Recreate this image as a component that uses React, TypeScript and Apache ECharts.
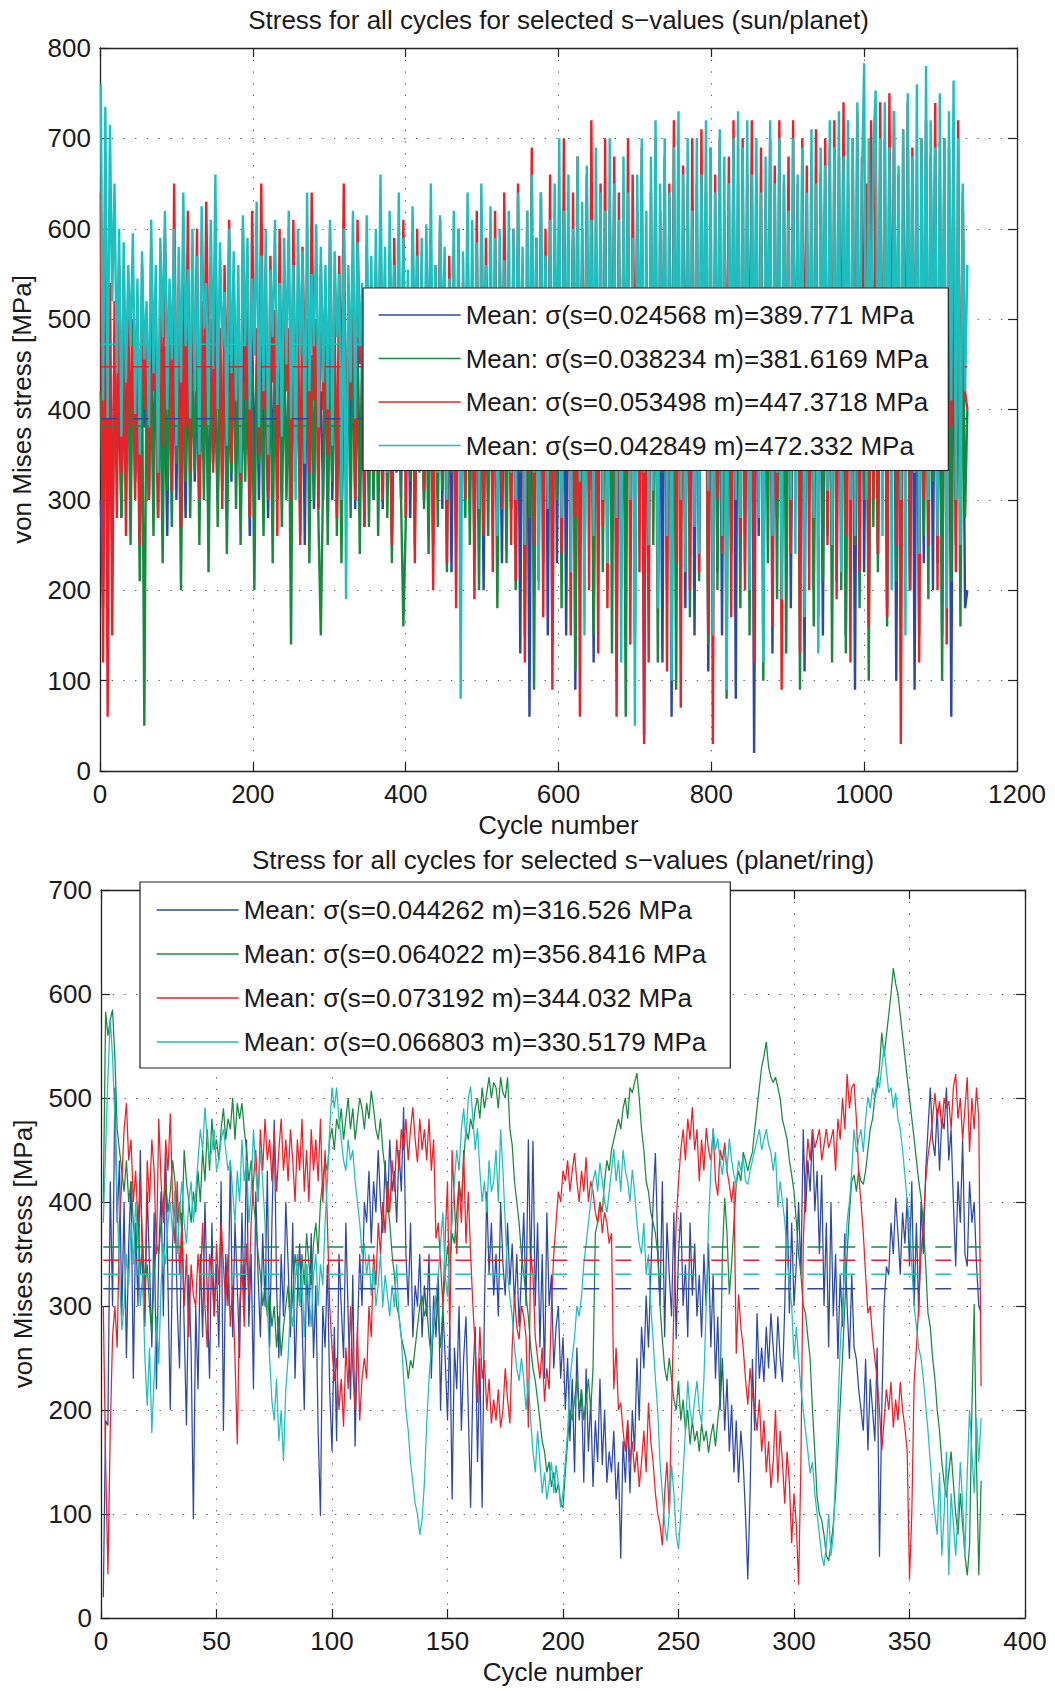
import React, { useEffect, useRef } from 'react';
import * as echarts from 'echarts';

const FONT = '"Liberation Sans", Arial, Helvetica, sans-serif';
const TEXT = '#1a1a1a';
const AXIS = '#222222';
const COLORS = ['#2b48a6', '#168a3f', '#ee1f26', '#1fbfbf'];

const topTitle = 'Stress for all cycles for selected s\u2212values (sun/planet)';
const bottomTitle = 'Stress for all cycles for selected s\u2212values (planet/ring)';
const xName = 'Cycle number';
const yName = 'von Mises stress [MPa]';

const topS = ['0.024568', '0.038234', '0.053498', '0.042849'];
const topMeans = [389.771, 381.6169, 447.3718, 472.332];
const bottomS = ['0.044262', '0.064022', '0.073192', '0.066803'];
const bottomMeans = [316.526, 356.8416, 344.032, 330.5179];

// axis ranges
const topXMax = 1200, topXInterval = 200, topYMax = 800, topYInterval = 100;
const botXMax = 400, botXInterval = 50, botYMax = 700, botYInterval = 100;

// top chart: one value every 3rd cycle (cycle 1, 4, 7, ... 1135)
const topFirstCycle = 1;
const topCycleStep = 3;
const topLastCycle = 1135;

const topBlue = [
  300,180,450,300,420,250,480,340,410,280,470,350,440,300,500,320,430,270,460,380,
  420,300,480,350,440,280,500,330,410,260,470,360,450,300,490,340,420,280,460,350,
  480,320,440,290,500,360,430,270,470,340,410,300,490,350,440,280,460,320,500,340,
  430,290,470,350,420,260,490,330,450,300,480,360,420,280,470,340,440,300,500,320,
  460,330,420,280,490,350,440,300,470,250,500,340,430,290,480,360,420,300,460,330,
  490,300,440,350,470,280,420,330,500,360,450,290,480,320,430,270,470,350,440,300,
  470,340,430,290,500,350,450,260,480,330,420,300,490,360,440,280,470,320,500,350,
  440,300,480,360,420,250,500,330,450,290,470,350,430,220,490,330,460,280,440,350,
  500,310,450,240,480,350,430,200,490,330,460,280,510,350,440,230,480,320,450,290,
  540,250,500,130,560,320,480,60,520,380,590,210,500,340,560,150,530,300,580,230,
  500,350,560,150,520,280,580,90,510,330,560,200,600,310,490,120,550,280,520,360,
  580,200,530,330,560,110,500,280,590,230,520,350,560,150,510,310,580,40,540,260,
  520,330,580,210,500,120,560,300,530,60,590,260,510,350,570,180,520,290,560,150,
  590,270,520,340,560,110,500,300,580,220,530,150,570,320,510,240,560,80,590,300,
  540,230,500,320,570,20,530,260,590,190,510,340,560,130,520,280,580,200,540,330,
  560,180,520,300,590,240,510,110,570,330,530,200,580,290,500,150,560,260,520,320,
  590,210,540,330,510,150,570,280,520,90,560,340,590,220,530,170,570,310,500,240,
  560,300,590,180,520,330,570,100,540,260,510,340,580,200,550,90,590,290,520,230,
  570,320,530,200,590,280,510,150,560,340,520,60,580,250,540,300,510,180,200,
];

const topGreen = [
  420,260,470,320,500,230,450,340,480,280,430,300,470,250,490,330,440,210,460,50,
  480,300,440,260,500,350,420,230,470,310,450,270,490,340,430,200,460,320,500,280,
  440,330,480,250,460,300,500,220,430,350,470,270,450,310,490,240,420,330,480,290,
  460,250,430,320,490,280,440,200,470,340,430,260,500,310,450,230,480,350,420,270,
  470,300,440,140,490,320,450,260,430,340,480,230,460,300,500,270,150,330,470,250,
  440,320,480,260,450,230,470,350,430,280,490,310,450,240,480,330,440,270,460,300,
  490,260,440,330,470,280,450,230,480,340,430,300,160,270,460,320,500,250,440,330,
  470,290,430,240,490,350,450,270,480,310,440,220,470,330,430,260,490,300,450,280,
  460,250,490,330,440,200,470,300,430,260,480,340,450,180,470,310,440,230,490,290,
  520,200,470,330,560,150,490,280,540,90,500,360,560,230,480,310,570,140,510,300,
  560,180,500,350,540,250,590,110,480,320,550,200,510,370,580,150,490,280,560,220,
  500,340,570,130,520,260,590,200,480,60,550,330,510,210,580,290,530,150,560,350,
  580,250,510,120,560,330,490,200,570,280,520,90,590,350,500,230,560,170,530,310,
  540,210,590,360,500,140,570,270,520,200,580,330,490,80,560,250,600,310,510,180,
  570,300,520,150,590,260,500,340,560,100,530,230,580,310,510,190,570,280,540,130,
  510,260,580,330,540,90,560,220,600,300,520,160,570,340,500,210,590,270,530,120,
  560,310,520,200,580,130,540,340,570,250,500,180,590,300,530,100,560,270,510,220,
  580,300,530,160,560,340,590,210,520,110,570,280,540,200,590,330,510,150,560,260,
  540,190,580,320,520,230,570,100,550,300,510,210,580,330,540,160,520,280,400,
];

const topRed = [
  640,120,580,60,540,150,520,280,560,330,500,260,540,380,470,300,520,250,560,400,
  500,300,580,420,470,280,540,360,600,450,520,310,650,400,480,270,560,380,620,330,
  540,430,600,300,520,380,630,450,500,330,580,420,490,290,560,400,610,340,530,450,
  470,320,600,410,540,280,620,460,490,350,650,400,520,300,570,430,510,260,600,380,
  550,420,490,300,610,380,530,250,580,450,500,330,640,410,480,290,560,400,520,350,
  600,430,510,280,570,400,650,340,490,410,560,300,610,450,520,270,580,390,500,330,
  550,420,600,300,520,380,470,250,590,430,530,350,610,280,500,420,560,230,600,380,
  520,310,580,440,490,200,560,400,610,330,500,230,570,420,520,180,600,380,540,300,
  580,420,510,190,620,360,540,260,590,430,500,220,620,350,560,290,640,400,530,250,
  600,210,650,380,540,120,620,330,690,250,560,400,640,170,600,300,660,90,580,380,
  620,240,700,350,560,150,640,280,680,60,600,400,660,200,720,330,580,130,650,270,
  700,180,620,380,680,60,640,250,600,330,700,140,660,410,620,220,690,30,560,120,
  640,350,700,200,620,420,680,110,650,300,720,230,600,70,670,380,640,200,700,320,
  650,220,710,380,640,150,690,30,660,300,700,240,620,400,680,170,720,330,650,260,
  700,200,660,390,720,120,650,310,690,230,640,420,700,160,670,300,720,90,650,370,
  680,240,720,350,650,130,700,410,670,200,640,330,710,170,660,380,700,250,690,300,
  720,190,680,400,740,260,650,120,700,350,730,220,680,410,650,160,720,300,690,240,
  740,330,700,170,750,400,730,250,660,30,710,360,740,200,690,410,650,120,700,300,
  720,250,680,400,739,200,650,330,700,140,690,380,660,220,720,300,640,420,400,
];

const topCyan = [
  760,410,735,390,715,520,650,440,600,370,585,430,560,470,595,395,545,350,575,455,
  520,380,610,440,560,330,590,480,620,400,545,455,600,360,580,430,640,470,555,390,
  600,420,570,350,625,490,540,380,610,445,660,400,585,470,530,360,600,440,575,410,
  560,330,615,470,590,400,545,460,630,380,570,420,600,350,555,480,610,405,540,370,
  590,450,620,390,560,300,600,460,575,340,640,420,550,470,605,380,580,430,560,400,
  610,360,575,480,550,300,600,190,560,430,620,390,585,470,540,350,615,440,570,410,
  600,380,660,450,580,330,620,470,560,400,640,360,590,440,555,380,625,470,570,420,
  590,350,605,440,650,380,560,330,615,470,580,300,545,420,620,370,600,80,575,430,
  640,360,610,420,585,290,650,470,560,340,625,400,590,260,600,450,565,380,620,330,
  600,300,640,420,580,250,620,380,660,330,590,200,640,450,570,290,610,350,650,410,
  700,280,620,400,660,220,600,380,680,320,630,150,670,420,610,260,690,360,640,300,
  620,230,700,380,650,280,610,120,680,400,640,300,590,50,660,420,700,330,620,250,
  680,310,720,180,650,390,700,260,640,100,690,420,730,300,660,220,700,360,620,270,
  700,240,660,400,720,310,690,150,640,380,710,260,680,90,650,420,700,300,730,280,
  690,360,720,200,660,430,700,280,640,120,680,380,720,260,650,330,700,190,660,410,
  620,300,700,240,660,400,690,170,640,360,710,280,650,130,690,420,670,310,720,250,
  690,370,730,220,680,420,720,300,700,260,740,390,650,783,300,700,430,690,753,350,
  700,260,740,380,690,200,730,420,670,300,710,150,750,400,680,330,760,240,700,380,
  780,300,720,420,690,260,750,380,700,180,730,410,764,300,700,250,650,420,560,
];

// bottom chart: one value per cycle (cycle 1 ... 381)
const botFirstCycle = 1;
const botCycleStep = 1;
const botLastCycle = 381;

const botBlue = [
  20,190,185,420,300,510,380,440,290,400,250,360,420,230,380,300,450,330,280,410,
  340,260,390,220,350,410,290,450,320,200,360,410,300,240,390,280,185,330,260,95,
  300,220,350,270,400,310,230,380,290,340,260,420,180,350,300,440,270,380,320,250,
  390,300,460,280,350,220,410,330,270,370,300,430,260,380,479,320,250,350,290,400,
  340,270,380,230,310,360,290,200,340,280,370,250,320,180,98,300,260,340,220,160,
  280,170,350,300,250,380,290,210,330,165,270,350,300,400,380,430,360,420,390,450,
  400,370,440,390,460,410,430,380,450,410,491,350,300,380,270,320,300,350,270,320,
  290,350,230,310,270,330,200,300,250,190,280,114,260,220,300,180,250,290,200,106,
  230,280,150,250,106,300,410,330,380,310,350,290,400,340,310,380,320,360,300,350,
  280,330,390,300,460,330,459,300,380,260,350,230,390,300,330,240,280,300,230,270,
  200,250,170,230,140,260,190,220,130,240,160,210,126,190,150,230,147,200,130,160,
  140,180,114,150,57,170,130,190,120,200,160,250,190,280,240,310,260,330,400,447,
  360,300,420,270,380,330,290,390,268,350,390,300,340,270,380,310,360,290,330,270,
  350,300,360,260,330,230,290,200,250,180,230,160,205,140,190,130,180,150,100,37,
  120,249,180,293,230,260,227,280,240,293,260,230,290,250,227,300,404,293,380,300,
  340,400,330,470,390,440,410,470,391,430,350,426,300,380,260,400,290,350,249,330,
  280,370,300,249,330,260,249,220,200,180,249,161,230,200,170,260,59,200,300,338,
  330,380,350,404,370,330,390,360,404,338,420,300,380,290,400,350,430,470,510,460,
  444,490,430,480,470,510,440,470,400,338,420,380,460,350,338,420,380,400,340,300,293,
];

const botGreen = [
  400,583,560,575,585,540,470,450,430,410,440,400,420,380,350,390,330,360,320,340,
  300,273,330,360,350,380,400,420,390,410,440,420,380,400,370,450,420,400,380,410,
  390,430,400,450,420,470,430,480,450,460,440,470,490,460,480,470,500,460,495,480,
  495,470,450,420,440,400,380,350,330,300,320,290,310,280,300,260,290,252,280,300,
  320,280,310,350,330,300,350,320,370,340,320,360,380,350,400,420,440,430,460,471,
  450,480,470,490,460,480,500,470,490,460,480,500,490,470,495,480,507,490,470,460,
  480,450,430,400,380,350,330,300,290,270,260,250,230,248,240,260,280,300,310,290,
  300,270,250,280,310,290,260,300,330,358,340,370,360,390,420,400,440,470,460,480,
  470,490,500,480,510,490,505,520,500,515,510,490,520,505,500,520,470,455,420,400,
  380,350,330,310,290,260,240,228,210,190,170,160,140,150,126,140,120,130,110,106,
  140,170,200,190,210,230,200,220,190,210,230,200,240,370,380,400,390,420,440,430,
  450,460,470,480,470,490,500,480,510,505,515,524,500,470,450,420,410,390,380,370,
  350,300,268,240,228,250,230,210,200,228,190,210,180,200,167,190,170,180,160,187,
  170,180,159,175,187,165,190,210,349,404,370,311,340,380,417,430,420,448,440,430,
  440,448,470,490,510,530,540,554,530,520,515,520,510,500,479,470,460,440,426,410,
  382,350,330,300,293,270,249,200,160,116,100,94,80,60,55,70,90,120,160,205,
  250,300,350,390,420,426,410,430,420,417,430,450,470,480,500,510,530,563,540,560,
  580,600,625,610,600,580,560,540,520,500,480,461,440,420,404,380,340,293,280,250,
  230,200,180,150,130,116,140,160,130,100,80,120,90,60,41,70,200,302,150,41,132,
];

const botRed = [
  300,150,42,180,270,300,260,380,420,470,495,440,460,400,430,380,420,360,300,440,
  400,460,430,350,480,420,380,460,430,485,400,360,420,330,380,300,350,270,340,310,
  300,350,320,380,300,260,350,330,290,360,320,380,340,300,350,280,320,250,167,300,
  340,280,360,310,380,420,450,400,470,430,480,440,460,420,470,410,450,480,430,460,
  420,470,440,400,460,430,480,410,450,400,470,430,460,420,480,400,450,380,300,260,
  228,250,200,230,184,260,220,300,240,200,280,190,230,250,230,300,270,350,320,380,
  350,400,370,420,390,440,410,460,430,470,450,480,440,470,491,460,438,480,450,470,
  440,480,430,460,365,380,340,300,365,420,268,450,400,350,420,380,450,360,410,350,
  300,260,207,280,230,248,200,230,187,210,190,220,183,200,240,210,187,260,309,280,
  268,300,290,270,183,350,330,270,250,230,260,208,240,220,300,350,380,410,400,430,
  420,440,410,430,447,420,400,430,410,443,400,420,410,390,380,400,370,390,380,360,
  370,220,260,200,207,180,160,190,150,170,140,160,126,150,180,140,207,170,150,120,
  100,90,70,120,150,100,200,300,380,420,450,470,440,480,460,491,450,470,420,460,
  430,471,450,440,470,420,406,450,440,457,430,417,400,420,254,311,280,260,230,205,
  240,214,200,180,210,160,190,140,170,125,150,200,130,180,150,110,160,130,72,120,
  90,32,150,360,420,461,440,470,452,460,470,440,455,470,452,460,470,430,480,460,
  500,470,523,490,510,514,480,426,400,370,330,293,300,270,249,230,200,161,190,220,
  200,227,183,210,190,227,200,183,160,37,100,227,260,300,350,380,420,444,460,480,
  505,480,497,470,500,490,497,470,510,523,480,500,460,490,520,448,500,470,510,480,223,
];

const botCyan = [
  380,450,520,576,540,480,400,330,277,300,350,320,380,340,400,360,300,330,250,204,
  260,178,230,290,244,320,360,340,380,400,370,410,350,390,420,380,360,400,420,380,
  410,440,470,450,491,460,440,450,470,430,440,460,470,450,430,440,410,380,430,400,
  460,420,440,380,410,470,430,400,450,420,380,300,250,208,190,230,170,200,151,220,
  250,300,280,320,350,300,330,270,340,310,280,330,350,300,340,320,380,420,470,510,
  490,510,480,460,440,430,460,440,450,420,400,380,350,360,330,350,310,340,300,320,
  350,300,330,310,290,320,300,340,290,270,230,200,180,150,130,110,100,80,95,130,
  187,230,260,290,309,330,360,390,330,309,360,380,420,450,430,470,490,460,500,511,
  480,450,471,430,400,420,390,440,410,420,450,400,470,430,380,330,309,290,260,240,
  228,250,230,200,228,190,160,140,180,150,120,140,114,130,150,120,147,130,106,120,
  150,180,228,250,270,300,290,309,340,360,380,400,420,431,410,438,420,400,390,410,
  430,451,420,440,410,450,430,420,400,431,410,380,360,350,380,330,350,300,268,230,
  200,150,120,90,74,100,147,120,80,66,100,140,180,228,200,187,210,228,200,187,
  230,300,380,430,471,450,461,440,426,450,430,461,440,426,417,440,430,444,420,417,
  430,440,450,460,470,450,460,470,455,448,430,448,395,420,400,382,350,320,300,249,
  280,249,220,200,180,160,139,150,120,100,80,60,50,70,100,60,80,139,200,260,
  300,340,382,400,430,470,448,460,470,448,480,501,490,510,500,520,510,530,550,527,
  505,510,490,505,480,470,450,426,400,380,338,300,280,260,249,230,205,180,150,120,
  100,80,140,60,100,160,41,120,90,60,100,150,110,60,140,200,160,120,192,150,192,
];

const topValues = [topBlue, topGreen, topRed, topCyan];
const botValues = [botBlue, botGreen, botRed, botCyan];

const meanName = (s: string, m: number) => `Mean: \u03c3(s=${s} m)=${m} MPa`;

function dataSeries(name: string, values: number[], first: number, step: number, color: string, axisIndex: number, width: number) {
  return {
    type: 'line',
    name,
    xAxisIndex: axisIndex,
    yAxisIndex: axisIndex,
    data: values.map((v, i) => [first + i * step, v]),
    symbol: 'none',
    showSymbol: false,
    silent: true,
    lineStyle: { width, color, join: 'miter', miterLimit: 2 },
    itemStyle: { color },
    emphasis: { disabled: true },
    z: 2,
  };
}

function meanSeries(id: string, mean: number, x0: number, x1: number, color: string, axisIndex: number) {
  return {
    type: 'line',
    name: id,
    xAxisIndex: axisIndex,
    yAxisIndex: axisIndex,
    data: [[x0, mean], [x1, mean]],
    symbol: 'none',
    showSymbol: false,
    silent: true,
    lineStyle: { width: 1.5, color, type: [16, 16] },
    itemStyle: { color },
    emphasis: { disabled: true },
    z: 3,
  };
}

const labelStyle = { fontSize: 26, fontFamily: FONT, color: TEXT };
const axisLine = { show: true, onZero: false, lineStyle: { color: AXIS, width: 1.3 } };
const axisTick = { show: true, inside: true, length: 9, lineStyle: { color: AXIS, width: 1.2 } };
const gridLine = { show: true, lineStyle: { color: '#5a5a5a', width: 1, type: [1.3, 10.4] } };

function mainAxis(kind: 'x' | 'y', gridIndex: number, max: number, interval: number) {
  return {
    type: 'value',
    gridIndex,
    min: 0,
    max,
    interval,
    position: kind === 'x' ? 'bottom' : 'left',
    name: kind === 'x' ? xName : yName,
    nameLocation: 'middle',
    nameGap: kind === 'x' ? 41 : 65,
    nameTextStyle: labelStyle,
    axisLine,
    axisTick,
    axisLabel: {
      show: true,
      margin: kind === 'x' ? 10 : 9,
      formatter: (v: number) => String(v),
      ...labelStyle,
    },
    splitLine: gridLine,
  };
}

function boxAxis(kind: 'x' | 'y', gridIndex: number, max: number, interval: number) {
  return {
    type: 'value',
    gridIndex,
    min: 0,
    max,
    interval,
    position: kind === 'x' ? 'top' : 'right',
    axisLine,
    axisTick,
    axisLabel: { show: false },
    splitLine: { show: false },
  };
}

function legendFor(names: string[], left: number, top: number, gap: number, padding: number[]) {
  return {
    data: names,
    orient: 'vertical',
    left,
    top,
    itemWidth: 82,
    itemHeight: 14,
    itemGap: gap,
    padding,
    backgroundColor: '#ffffff',
    borderColor: AXIS,
    borderWidth: 1.2,
    selectedMode: false,
    itemStyle: { opacity: 0, borderWidth: 0 },
    lineStyle: { width: 1.3 },
    textStyle: { fontSize: 26, fontFamily: FONT, color: TEXT, lineHeight: 26 },
    z: 10,
  };
}

function buildOption() {
  const topNames = topS.map((s, i) => meanName(s, topMeans[i]));
  const botNames = bottomS.map((s, i) => meanName(s, bottomMeans[i]));
  const series: any[] = [];
  topValues.forEach((vals, i) => series.push(dataSeries(topNames[i], vals, topFirstCycle, topCycleStep, COLORS[i], 0, 2.4)));
  botValues.forEach((vals, i) => series.push(dataSeries(botNames[i], vals, botFirstCycle, botCycleStep, COLORS[i], 2, 1.25)));
  topMeans.forEach((m, i) => series.push(meanSeries(`top-mean-${i}`, m, topFirstCycle, topLastCycle, COLORS[i], 0)));
  bottomMeans.forEach((m, i) => series.push(meanSeries(`bottom-mean-${i}`, m, botFirstCycle, botLastCycle, COLORS[i], 2)));

  return {
    animation: false,
    backgroundColor: '#ffffff',
    textStyle: { fontFamily: FONT },
    grid: [
      { left: 100, top: 48, width: 917, height: 723, containLabel: false, outerBoundsMode: 'none' },
      { left: 101, top: 890, width: 924, height: 728, containLabel: false, outerBoundsMode: 'none' },
    ],
    xAxis: [
      mainAxis('x', 0, topXMax, topXInterval),
      boxAxis('x', 0, topXMax, topXInterval),
      mainAxis('x', 1, botXMax, botXInterval),
      boxAxis('x', 1, botXMax, botXInterval),
    ],
    yAxis: [
      mainAxis('y', 0, topYMax, topYInterval),
      boxAxis('y', 0, topYMax, topYInterval),
      mainAxis('y', 1, botYMax, botYInterval),
      boxAxis('y', 1, botYMax, botYInterval),
    ],
    legend: [
      legendFor(topNames, 363, 288, 17.5, [14, 20, 12, 15]),
      legendFor(botNames, 140, 882, 18, [15, 24, 13, 16]),
    ],
    graphic: [
      {
        type: 'text', x: 558.5, y: 20, z: 20,
        style: { text: topTitle, font: `26px ${FONT}`, fill: TEXT, textAlign: 'center', textVerticalAlign: 'middle', align: 'center', verticalAlign: 'middle' },
      },
      {
        type: 'text', x: 563, y: 860, z: 20,
        style: { text: bottomTitle, font: `26px ${FONT}`, fill: TEXT, textAlign: 'center', textVerticalAlign: 'middle', align: 'center', verticalAlign: 'middle' },
      },
    ],
    series,
  };
}

export default function App() {
  const ref = useRef<HTMLDivElement>(null);
  useEffect(() => {
    if (!ref.current) return;
    const chart = echarts.init(ref.current, null, { renderer: 'svg' });
    chart.setOption(buildOption() as any);
    return () => chart.dispose();
  }, []);
  return (
    <div
      ref={ref}
      style={{ position: 'absolute', left: 0, top: 0, width: 1055, height: 1691, background: '#ffffff' }}
    />
  );
}
